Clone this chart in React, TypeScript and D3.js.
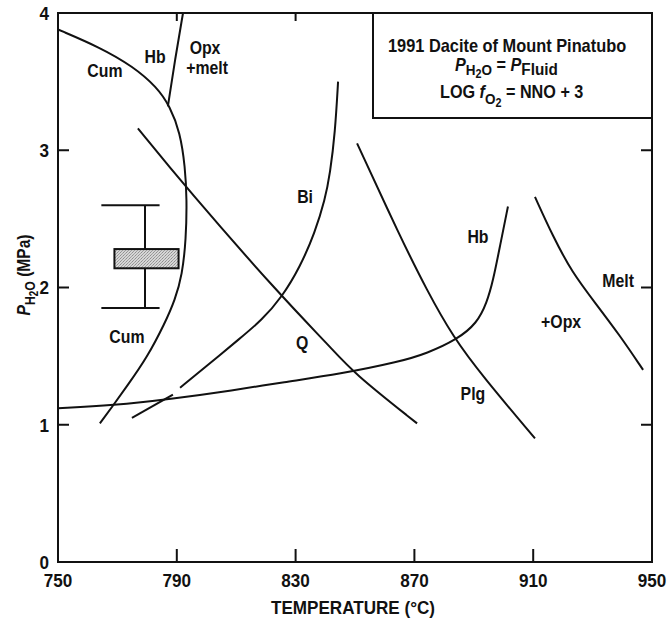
import React from "react";
import * as d3 from "d3";

type Pt = [number, number];

// Temperature (°C), P_H2O (MPa)
const xTicks = [750, 790, 830, 870, 910, 950];
const yTicks = [0, 1, 2, 3, 4];

const cumHbBoundary: Pt[] = [
  [750, 3.88], [764.1, 3.75], [775.3, 3.61], [783.3, 3.46], [787.7, 3.32],
  [791.1, 3.13], [792.8, 2.88], [793.4, 2.64], [793.1, 2.35], [791.8, 2.09],
  [789.4, 1.91], [786.0, 1.74], [780.0, 1.49], [773.2, 1.28], [768.2, 1.13],
  [764.1, 1.01],
];
const hbOpxBoundary: Pt[] = [[787.0, 3.32], [789.4, 3.66], [792.1, 4.0]];
const quartzBoundary: Pt[] = [
  [776.9, 3.16], [793.4, 2.72], [825.4, 1.93], [841.6, 1.57], [849.3, 1.38], [870.9, 1.01],
];
const biotiteUpper: Pt[] = [
  [844.3, 3.5], [843.3, 3.13], [841.6, 2.83], [839.9, 2.64], [836.5, 2.4],
  [831.5, 2.15], [825.4, 1.93], [818.5, 1.76], [811.3, 1.63], [800.2, 1.43],
  [791.1, 1.27],
];
const biotiteLower: Pt[] = [[788.7, 1.22], [774.9, 1.05]];
const hbOutCurve: Pt[] = [
  [750, 1.12], [768.5, 1.14], [788.7, 1.19], [808.9, 1.25], [825.8, 1.31],
  [845.0, 1.37], [865.2, 1.46], [874.2, 1.52], [884.3, 1.62], [891.1, 1.74],
  [894.4, 1.89], [896.5, 2.05], [898.8, 2.3], [901.5, 2.59],
];
const plagioclaseBoundary: Pt[] = [
  [850.7, 3.05], [865.2, 2.37], [874.2, 1.98], [883.0, 1.64], [893.1, 1.35], [910.6, 0.9],
];
const meltBoundary: Pt[] = [
  [910.6, 2.66], [916.7, 2.37], [923.1, 2.11], [930.8, 1.89], [939.2, 1.65], [947.0, 1.4],
];

const errorBarT = 779.3;
const errorBarP = [1.85, 2.6];
const errorCapT = [764.6, 784.2];
const boxT = [769.0, 790.6];
const boxP = [2.14, 2.28];

const phaseLabels: { text: string; t: number; p: number }[] = [
  { text: "Cum", t: 765.8, p: 3.58 },
  { text: "Hb", t: 782.7, p: 3.68 },
  { text: "Opx", t: 799.5, p: 3.75 },
  { text: "+melt", t: 800.2, p: 3.6 },
  { text: "Bi", t: 833.2, p: 2.66 },
  { text: "Cum", t: 773.2, p: 1.64 },
  { text: "Q", t: 832.2, p: 1.6 },
  { text: "Hb", t: 891.4, p: 2.37 },
  { text: "Melt", t: 938.6, p: 2.05 },
  { text: "+Opx", t: 919.4, p: 1.75 },
  { text: "Plg", t: 889.7, p: 1.23 },
];

const W = 667;
const H = 621;
const FONT = "'Liberation Sans', Arial, sans-serif";

function T(props: {
  x: number;
  y: number;
  size: number;
  anchor?: string;
  rotate?: number;
  sx?: number;
  dy?: string;
  children: React.ReactNode;
}) {
  const { x, y, size, anchor = "middle", rotate = 0, sx = 0.9, dy, children } = props;
  return (
    <text
      transform={`translate(${x},${y}) rotate(${rotate}) scale(${sx},1)`}
      textAnchor={anchor}
      fontSize={size}
      dy={dy}
      fill="#111"
    >
      {children}
    </text>
  );
}

export default function App() {
  const x = d3.scaleLinear().domain([750, 950]).range([58, 652]);
  const y = d3.scaleLinear().domain([0, 4]).range([562, 13]);
  const line = d3
    .line<Pt>()
    .x((d) => x(d[0]))
    .y((d) => y(d[1]))
    .curve(d3.curveBasis);

  const curves = [
    cumHbBoundary,
    hbOpxBoundary,
    quartzBoundary,
    biotiteUpper,
    biotiteLower,
    hbOutCurve,
    plagioclaseBoundary,
    meltBoundary,
  ];

  const [x0, x1] = x.range();
  const [y0, y1] = y.range();

  return (
    <svg
      width={W}
      height={H}
      style={{ position: "absolute", left: 0, top: 0, background: "#fff" }}
      fontFamily={FONT}
      fontWeight="bold"
    >
      <defs>
        <pattern id="stip" width="3" height="3" patternUnits="userSpaceOnUse">
          <rect width="3" height="3" fill="#d6d6d6" />
          <rect x="0" y="0" width="1" height="1" fill="#8f8f8f" />
          <rect x="2" y="1" width="1" height="1" fill="#a4a4a4" />
          <rect x="1" y="2" width="1" height="1" fill="#9c9c9c" />
        </pattern>
      </defs>

      {/* curves */}
      {curves.map((c, i) => (
        <path key={i} d={line(c) || ""} fill="none" stroke="#111" strokeWidth={2} />
      ))}

      {/* error bar */}
      <line x1={x(errorBarT)} x2={x(errorBarT)} y1={y(errorBarP[0])} y2={y(errorBarP[1])} stroke="#111" strokeWidth={2} />
      {errorBarP.map((p, i) => (
        <line key={i} x1={x(errorCapT[0])} x2={x(errorCapT[1])} y1={y(p)} y2={y(p)} stroke="#111" strokeWidth={2} />
      ))}
      <rect
        x={x(boxT[0])}
        y={y(boxP[1])}
        width={x(boxT[1]) - x(boxT[0])}
        height={y(boxP[0]) - y(boxP[1])}
        fill="url(#stip)"
        stroke="#111"
        strokeWidth={2}
      />

      {/* frame */}
      <rect x={x0} y={y1} width={x1 - x0} height={y0 - y1} fill="none" stroke="#111" strokeWidth={2} />

      {/* ticks */}
      {xTicks.slice(1, -1).map((t) => (
        <g key={"xt" + t}>
          <line x1={x(t)} x2={x(t)} y1={y0} y2={y0 - 13} stroke="#111" strokeWidth={2} />
          <line x1={x(t)} x2={x(t)} y1={y1} y2={y1 + 8} stroke="#111" strokeWidth={2} />
        </g>
      ))}
      {yTicks.slice(1, -1).map((t) => (
        <g key={"yt" + t}>
          <line x1={x0} x2={x0 + 11} y1={y(t)} y2={y(t)} stroke="#111" strokeWidth={2} />
          <line x1={x1} x2={x1 - 11} y1={y(t)} y2={y(t)} stroke="#111" strokeWidth={2} />
        </g>
      ))}

      {/* tick labels */}
      {xTicks.map((t) => (
        <T key={"xl" + t} x={x(t)} y={587} size={19}>
          {t}
        </T>
      ))}
      {yTicks.map((t) => (
        <T key={"yl" + t} x={49} y={y(t)} dy="0.36em" size={19} anchor="end">
          {t}
        </T>
      ))}

      {/* axis titles */}
      <T x={353} y={614} size={19}>
        TEMPERATURE (°C)
      </T>
      <T x={30} y={275} size={19} rotate={-90} sx={0.82}>
        <tspan fontStyle="italic">P</tspan>
        <tspan fontSize={15} dy={5}>H</tspan>
        <tspan fontSize={12} dy={3}>2</tspan>
        <tspan fontSize={15} dy={-3}>O</tspan>
        <tspan dy={-5}> (MPa)</tspan>
      </T>

      {/* phase labels */}
      {phaseLabels.map((l, i) => (
        <T key={"pl" + i} x={x(l.t)} y={y(l.p)} dy="0.36em" size={18} sx={0.88}>
          {l.text}
        </T>
      ))}

      {/* legend box */}
      <rect x={373} y={y1} width={x1 - 373} height={118 - y1} fill="#fff" stroke="#111" strokeWidth={2} />
      <T x={388} y={52} size={18} anchor="start" sx={0.91}>
        1991 Dacite of Mount Pinatubo
      </T>
      <T x={455} y={71} size={18} anchor="start" sx={0.9}>
        <tspan fontStyle="italic">P</tspan>
        <tspan fontSize={15} dy={4}>H</tspan>
        <tspan fontSize={12} dy={3}>2</tspan>
        <tspan fontSize={15} dy={-3}>O</tspan>
        <tspan dy={-4}> = </tspan>
        <tspan fontStyle="italic">P</tspan>
        <tspan fontSize={17} dy={4}>Fluid</tspan>
      </T>
      <T x={440} y={98} size={18} anchor="start" sx={0.9}>
        <tspan>LOG </tspan>
        <tspan fontStyle="italic">f</tspan>
        <tspan fontSize={15} dy={6}>O</tspan>
        <tspan fontSize={12} dy={3}>2</tspan>
        <tspan dy={-9}> = NNO + 3</tspan>
      </T>
    </svg>
  );
}
